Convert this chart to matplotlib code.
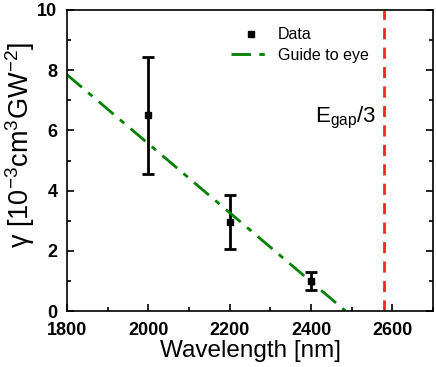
import matplotlib
matplotlib.use("Agg")
import matplotlib.pyplot as plt
from matplotlib.ticker import MultipleLocator
from matplotlib.lines import Line2D

plt.rcParams['font.family'] = ['Liberation Sans', 'DejaVu Sans']
plt.rcParams['mathtext.fontset'] = 'custom'
plt.rcParams['mathtext.rm'] = 'Liberation Sans'
plt.rcParams['mathtext.it'] = 'Liberation Sans'

wavelength = [2000, 2200, 2400]
gamma = [6.5, 2.95, 1.0]
gamma_err = [1.95, 0.9, 0.3]
guide_x = [1800, 2485]
guide_y = [7.85, 0.0]
egap_x = 2580

fig = plt.figure(figsize=(4.36, 3.67), dpi=100)
ax = fig.add_axes([67/436, 1-311/367, (433-67)/436, (311-10)/367])

ax.errorbar(wavelength, gamma, yerr=gamma_err, fmt='s', color='black', ms=5,
            elinewidth=2, capsize=4, capthick=2)
ax.plot(guide_x, guide_y, color='#008000', lw=2, dashes=[7, 3, 2, 3])
ax.axvline(egap_x, color='#ff2020', lw=2, dashes=[4, 3])
ax.text(2410, 6.25, r'E$_{\mathrm{gap}}$/3', fontsize=16)

ax.set_xlim(1800, 2700)
ax.set_ylim(0, 10)
ax.xaxis.set_major_locator(MultipleLocator(200))
ax.xaxis.set_minor_locator(MultipleLocator(100))
ax.yaxis.set_major_locator(MultipleLocator(2))
ax.yaxis.set_minor_locator(MultipleLocator(1))
ax.tick_params(which='both', direction='in', right=True, top=False, width=1.2)
ax.tick_params(which='major', length=5, labelsize=13)
ax.tick_params(which='minor', length=3)
ax.tick_params(axis='x', pad=8)
ax.tick_params(axis='y', pad=7)
for lab in ax.get_xticklabels() + ax.get_yticklabels():
    lab.set_fontweight('bold')
for s in ax.spines.values():
    s.set_linewidth(1.2)

ax.set_xlabel('Wavelength [nm]', fontsize=17.5, labelpad=1)
ax.set_ylabel(r'$\gamma$ [10$^{-3}$cm$^{3}$GW$^{-2}$]', fontsize=19.5)
ax.yaxis.set_label_coords(-0.083, 0.55)

handles = [Line2D([], [], ls='none', marker='s', color='black', ms=5),
           Line2D([], [], color='#008000', lw=2, dashes=[7, 3, 2, 3])]
ax.legend(handles, ['Data', 'Guide to eye'], loc='upper left',
          bbox_to_anchor=(0.41, 0.99), frameon=False, fontsize=11.5,
          handlelength=2.4, labelspacing=0.35, handletextpad=0.5)

fig.savefig('out.png', dpi=100)
